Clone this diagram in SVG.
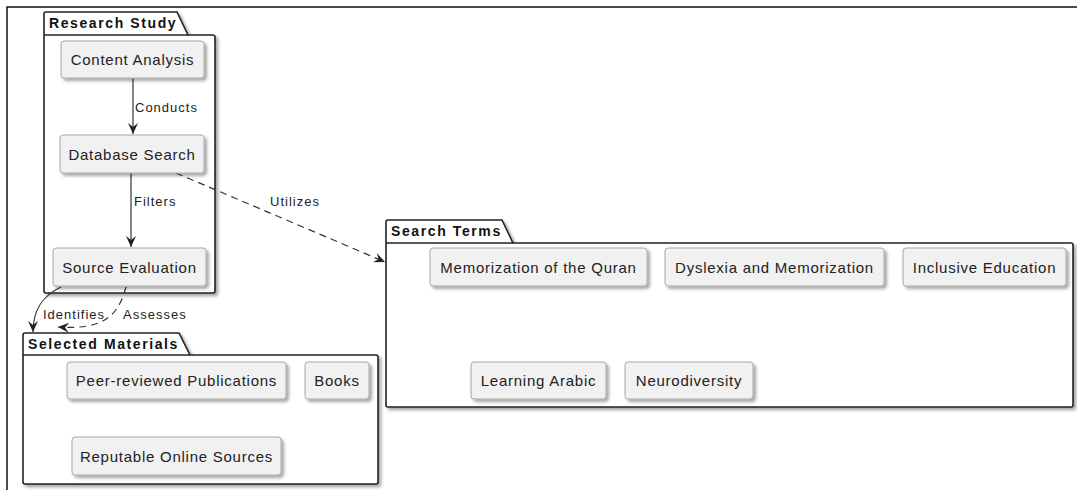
<svg xmlns="http://www.w3.org/2000/svg" width="1077" height="490" viewBox="0 0 1077 490">
<style>
.node rect{fill:#f1f1f1;stroke:#a8a8a8;stroke-width:1}
.node text{font-family:"Liberation Sans",Arial,sans-serif;font-size:15px;letter-spacing:0.75px;fill:#222;text-anchor:middle}
.pkg path{fill:#fff;stroke:#222;stroke-width:1.6}
.pkg text{font-family:"Liberation Sans",Arial,sans-serif;font-size:14px;font-weight:bold;letter-spacing:1.6px;fill:#111}
.edge{fill:none;stroke:#333;stroke-width:1.2}
.dash{stroke-dasharray:7,5}
.lbl{font-family:"Liberation Sans",Arial,sans-serif;font-size:13px;letter-spacing:1px;fill:#222}
</style>
<defs>
<filter id="sh" x="-10%" y="-10%" width="130%" height="140%">
<feDropShadow dx="2.5" dy="2.5" stdDeviation="1.5" flood-color="#000" flood-opacity="0.35"/>
</filter>
<marker id="ah" viewBox="0 0 12 10" refX="11" refY="5" markerWidth="12" markerHeight="10" markerUnits="userSpaceOnUse" orient="auto">
<path d="M0,0 L11,5 L0,10 L4,5 Z" fill="#222"/>
</marker>
</defs>
<g id="frame">
<path d="M7,490 L7,7 L1077,7" fill="none" stroke="#111" stroke-width="1.5"/>
</g>
<g id="pkg-research" class="pkg">
<path filter="url(#sh)" d="M44,35 L44,14 Q44,12 46,12 L177,12 L188,35 L213,35 Q215,35 215,37 L215,291 Q215,293 213,293 L46,293 Q44,293 44,291 Z"/>
<path d="M44,35 L188,35"/>
<text x="49" y="28">Research Study</text>
</g>
<g id="pkg-selected" class="pkg">
<path filter="url(#sh)" d="M23,355 L23,335 Q23,333 25,333 L179,333 L190,355 L376,355 Q378,355 378,357 L378,482 Q378,484 376,484 L25,484 Q23,484 23,482 Z"/>
<path d="M23,355 L190,355"/>
<text x="28" y="349">Selected Materials</text>
</g>
<g id="pkg-search" class="pkg">
<path filter="url(#sh)" d="M386,243 L386,222 Q386,220 388,220 L502,220 L513,243 L1071,243 Q1073,243 1073,245 L1073,405 Q1073,407 1071,407 L388,407 Q386,407 386,405 Z"/>
<path d="M386,243 L513,243"/>
<text x="391" y="236">Search Terms</text>
</g>
<g id="connectors">
<path class="edge" d="M133,78 L133,134" marker-end="url(#ah)"/>
<text class="lbl" x="135" y="112">Conducts</text>
<path class="edge" d="M131,173 L131,247" marker-end="url(#ah)"/>
<text class="lbl" x="134" y="206">Filters</text>
<path class="edge dash" d="M176,173 L385,262" marker-end="url(#ah)"/>
<text class="lbl" x="270" y="206">Utilizes</text>
<path class="edge" d="M61,287 C42,296 33,310 33,332" marker-end="url(#ah)"/>
<text class="lbl" x="43" y="319">Identifies</text>
<path class="edge dash" d="M126,287 C118,316 104,330 58,327" marker-end="url(#ah)"/>
<text class="lbl" x="123" y="319">Assesses</text>
</g>
<g id="content-analysis" class="node"><rect filter="url(#sh)" x="61" y="41" width="143" height="37" rx="3"/><text x="132.5" y="65">Content Analysis</text></g>
<g id="database-search" class="node"><rect filter="url(#sh)" x="60" y="135" width="144" height="38" rx="3"/><text x="132" y="160">Database Search</text></g>
<g id="source-evaluation" class="node"><rect filter="url(#sh)" x="53" y="248" width="153" height="38" rx="3"/><text x="129.5" y="273">Source Evaluation</text></g>
<g id="peer-reviewed" class="node"><rect filter="url(#sh)" x="67" y="362" width="219" height="37" rx="3"/><text x="176.5" y="386">Peer-reviewed Publications</text></g>
<g id="books" class="node"><rect filter="url(#sh)" x="305" y="362" width="64" height="37" rx="3"/><text x="337" y="386">Books</text></g>
<g id="reputable-online" class="node"><rect filter="url(#sh)" x="72" y="437" width="209" height="38" rx="3"/><text x="176.5" y="462">Reputable Online Sources</text></g>
<g id="memorization-quran" class="node"><rect filter="url(#sh)" x="430" y="248" width="217" height="38" rx="3"/><text x="538.5" y="273">Memorization of the Quran</text></g>
<g id="dyslexia" class="node"><rect filter="url(#sh)" x="665" y="248" width="219" height="38" rx="3"/><text x="774.5" y="273">Dyslexia and Memorization</text></g>
<g id="inclusive-education" class="node"><rect filter="url(#sh)" x="903" y="248" width="163" height="38" rx="3"/><text x="984.5" y="273">Inclusive Education</text></g>
<g id="learning-arabic" class="node"><rect filter="url(#sh)" x="471" y="362" width="135" height="37" rx="3"/><text x="538.5" y="386">Learning Arabic</text></g>
<g id="neurodiversity" class="node"><rect filter="url(#sh)" x="625" y="362" width="128" height="37" rx="3"/><text x="689" y="386">Neurodiversity</text></g>
</svg>
